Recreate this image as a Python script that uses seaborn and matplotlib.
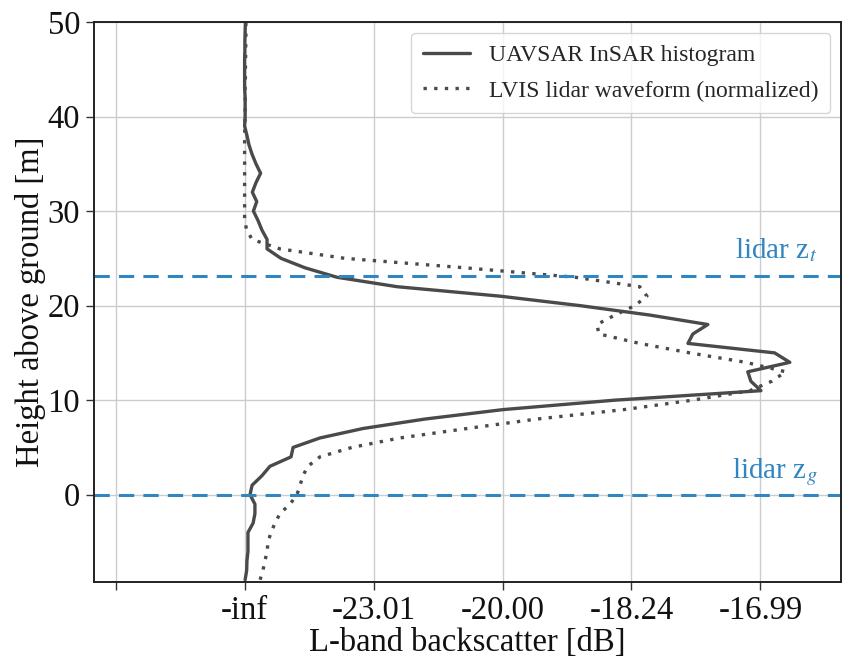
import numpy as np
import pandas as pd
import seaborn as sns
import matplotlib
matplotlib.use("Agg")
import matplotlib.pyplot as plt

# heights above ground [m]
heights = list(range(50, -10, -1))

# UAVSAR InSAR histogram (linear backscatter)
uavsar = [0.03, 0.02, 0.01, 0.01, 0.0, 0.0, 0.0, 0.0, 0.02, 0.02,
          0.02, 0.0, 0.09, 0.17, 0.29, 0.44, 0.62, 0.44, 0.30, 0.47,
          0.34, 0.52, 0.67, 0.87, 0.87, 1.41, 2.34, 3.58, 5.91, 9.90,
          13.0, 15.71, 17.96, 17.38, 17.19, 20.55, 21.14, 19.51, 19.63, 20.02,
          14.36, 10.02, 6.99, 4.59, 2.92, 1.88, 1.80, 0.98, 0.67, 0.29,
          0.21, 0.40, 0.40, 0.33, 0.13, 0.13, 0.13, 0.09, 0.08, 0.02]

# LVIS lidar waveform (normalized)
lvis = [0.05, 0.05, 0.05, 0.04, 0.04, 0.03, 0.03, 0.02, 0.02, 0.02,
        0.02, 0.01, 0.0, 0.0, 0.0, 0.0, 0.0, 0.0, 0.0, 0.0,
        0.0, 0.0, 0.08, 0.29, 1.37, 3.89, 8.54, 12.81, 15.32, 15.60,
        15.13, 14.36, 13.66, 13.74, 15.32, 17.26, 19.43, 20.98, 20.44, 19.59,
        17.38, 14.71, 11.33, 8.62, 6.02, 4.16, 2.92, 2.45, 2.26, 2.15,
        2.03, 1.76, 1.37, 1.18, 1.02, 0.91, 0.87, 0.79, 0.71, 0.60]

lidar_zt = 23.15
lidar_zg = 0.0

xticks = [-0.005, 0.0, 0.005, 0.010, 0.015, 0.020]
xtick_labels = ["", "-inf", "-23.01", "-20.00", "-18.24", "-16.99"]
yticks = [0, 10, 20, 30, 40, 50]

df = pd.DataFrame({"height": heights,
                   "uavsar": np.array(uavsar) * 1e-3,
                   "lvis": np.array(lvis) * 1e-3})

sns.set_theme(style="ticks")
plt.rcParams["font.family"] = ["Liberation Serif", "DejaVu Serif"]
plt.rcParams["mathtext.fontset"] = "stix"

fig = plt.figure(figsize=(8.43, 6.58), dpi=100)
ax = fig.add_axes([0.1115, 0.116, 0.886, 0.8506])

sns.lineplot(data=df, x="uavsar", y="height", orient="y", color="#4a4a4a",
             lw=2.4, label="UAVSAR InSAR histogram", ax=ax)
sns.lineplot(data=df, x="lvis", y="height", orient="y", color="#4a4a4a",
             lw=2.4, ls=(0, (1, 2.2)), label="LVIS lidar waveform (normalized)", ax=ax)

blue = "#2f86c0"
ax.axhline(lidar_zt, color=blue, ls=(0, (5, 3)), lw=2.2)
ax.axhline(lidar_zg, color=blue, ls=(0, (5, 3)), lw=2.2)
ax.text(0.0222, lidar_zt + 1.9, "lidar z$_t$", color=blue, fontsize=21,
        ha="right", va="baseline")
ax.text(0.0222, lidar_zg + 1.8, "lidar z$_g$", color=blue, fontsize=21,
        ha="right", va="baseline")

ax.set_xlim(-0.00584, 0.02312)
ax.set_ylim(-9.2, 50)
ax.set_xticks(xticks)
ax.set_xticklabels(xtick_labels)
ax.set_yticks(yticks)
ax.tick_params(labelsize=23.5, length=6, width=1, color="#333333",
               labelcolor="#111111", pad=4)
ax.grid(True, color="#cccccc", lw=1)
for s in ax.spines.values():
    s.set_color("#222222")
    s.set_linewidth(1.4)

ax.set_xlabel("L-band backscatter [dB]", fontsize=23.5, labelpad=1, color="#111111")
ax.set_ylabel("Height above ground [m]", fontsize=23.5, labelpad=1, color="#111111")

leg = ax.legend(loc="upper right", fontsize=17, frameon=True,
                borderaxespad=0.45, handlelength=2.0, labelspacing=0.6,
                borderpad=0.5)
leg.get_frame().set_edgecolor("#cccccc")

fig.savefig("out.png", dpi=100)
